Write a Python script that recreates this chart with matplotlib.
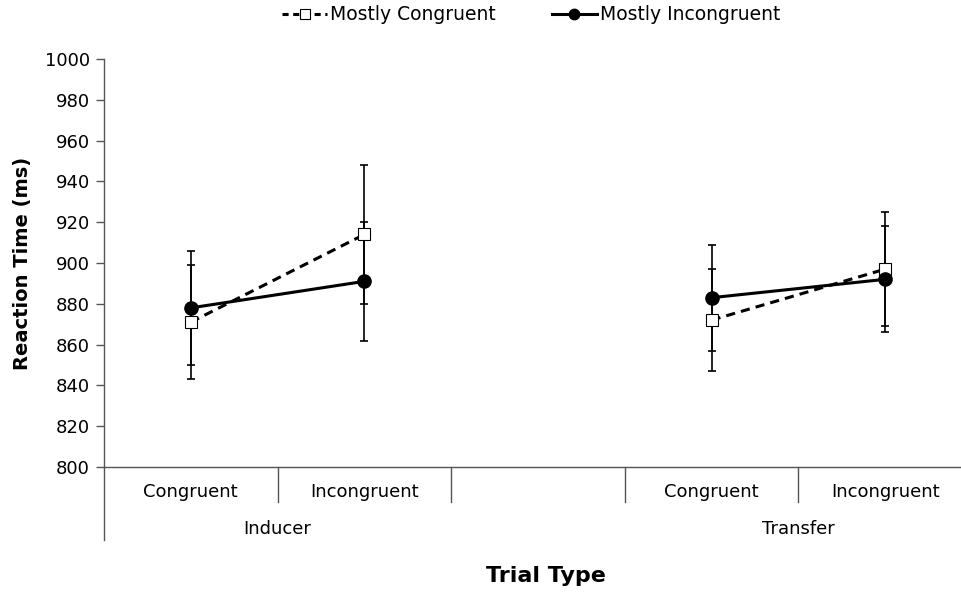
import numpy as np
import matplotlib
matplotlib.use("Agg")
from matplotlib import pyplot as plt
from matplotlib.lines import Line2D

# five category slots, the middle one is empty (gap between groups)
trial_labels = ["Congruent", "Incongruent", "", "Congruent", "Incongruent"]
groups = ["Inducer", "Transfer"]
group_slots = [(0, 2), (3, 5)]

mostly_congruent = [871, 914, np.nan, 872, 897]
mostly_congruent_err = [28, 34, np.nan, 25, 28]
mostly_incongruent = [878, 891, np.nan, 883, 892]
mostly_incongruent_err = [28, 29, np.nan, 26, 26]

plt.rcParams["font.family"] = "DejaVu Sans"

fig = plt.figure(figsize=(9.61, 5.92), dpi=100)
ax = fig.add_axes([104 / 961, 125 / 592, 868 / 961, 408 / 592])

x = np.arange(len(trial_labels)) + 0.5

ax.errorbar(x, mostly_congruent, yerr=mostly_congruent_err, fmt="none",
            ecolor="black", elinewidth=1.2, capsize=3, capthick=1.2, zorder=2)
ax.errorbar(x, mostly_incongruent, yerr=mostly_incongruent_err, fmt="none",
            ecolor="black", elinewidth=1.2, capsize=3, capthick=1.2, zorder=2)
ax.plot(x, mostly_congruent, color="black", lw=2.2, ls=(0, (3, 2)),
        marker="s", ms=8, mfc="white", mec="black", mew=0.8, zorder=3)
ax.plot(x, mostly_incongruent, color="black", lw=2.2, ls="-",
        marker="o", ms=9.5, mfc="black", mec="black", zorder=4)

ax.set_xlim(0, 5)
ax.set_ylim(800, 1000)
ax.set_yticks(np.arange(800, 1001, 20))
ax.tick_params(axis="y", labelsize=13, length=6, width=1, color="#555555", pad=4)
ax.set_xticks([])
for s in ["top", "right"]:
    ax.spines[s].set_visible(False)
for s in ["left", "bottom"]:
    ax.spines[s].set_color("#555555")
    ax.spines[s].set_linewidth(1)

# multi level category axis
tr = ax.get_xaxis_transform()
ax.plot([0, 0], [0, -0.179], transform=tr, color="#555555", lw=1, clip_on=False)
ax.plot([5, 5], [0, -0.179], transform=tr, color="#555555", lw=1, clip_on=False)
for i in range(1, 5):
    ax.plot([i, i], [0, -0.086], transform=tr, color="#555555", lw=1, clip_on=False)
for xi, lab in zip(x, trial_labels):
    ax.text(xi, -0.061, lab, transform=tr, ha="center", va="center", fontsize=13)
for g, (a, b) in zip(groups, group_slots):
    ax.text((a + b) / 2, -0.152, g, transform=tr, ha="center", va="center", fontsize=13)

ax.set_ylabel("Reaction Time (ms)", fontsize=14, fontweight="bold", labelpad=9)
fig.text(546 / 961, 1 - 576 / 592, "Trial Type", ha="center", va="center",
         fontsize=16, fontweight="bold")

handles = [
    Line2D([], [], color="black", lw=2.2, ls=(0, (2, 1.5)), marker="s", ms=7,
           mfc="white", mec="black", mew=0.8),
    Line2D([], [], color="black", lw=2.2, ls="-", marker="o", ms=7.5, mfc="black"),
]
fig.legend(handles, ["Mostly Congruent", "Mostly Incongruent"], ncol=2,
           loc="center", bbox_to_anchor=(531 / 961, 1 - 15 / 592), frameon=False,
           fontsize=13.5, handlelength=2.4, handletextpad=0.15, columnspacing=3.0)

fig.savefig("out.png", dpi=100)
